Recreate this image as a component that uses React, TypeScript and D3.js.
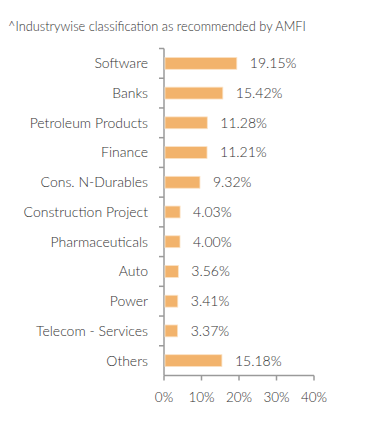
import React from "react";
import * as d3 from "d3";

const categories = [
  "Software",
  "Banks",
  "Petroleum Products",
  "Finance",
  "Cons. N-Durables",
  "Construction Project",
  "Pharmaceuticals",
  "Auto",
  "Power",
  "Telecom - Services",
  "Others",
];
const values = [19.15, 15.42, 11.28, 11.21, 9.32, 4.03, 4.0, 3.56, 3.41, 3.37, 15.18];
const xTicks = [0, 10, 20, 30, 40];

const title = "^Industrywise classification as recommended by AMFI";

const width = 391;
const height = 429;
const left = 164;
const top = 48.5;
const bottom = 375.5;

const App = () => {
  const x = d3.scaleLinear().domain([0, 40]).range([left, left + 150]);
  const y = d3.scaleBand().domain(categories).range([top, bottom]).paddingInner(0.6).paddingOuter(0.3);
  const yBand = d3.scaleBand().domain(categories).range([top, bottom]);
  const axisColor = "#9a9a9a";
  const font = "Lato, 'Open Sans', sans-serif";

  return (
    <svg width={width} height={height} style={{ position: "absolute", left: 0, top: 0, background: "#fff" }}>
      <text x={8} y={31} fontFamily={font} fontSize={12.8} fontWeight={300} fill="#333">
        {title}
      </text>

      {/* y axis */}
      <line x1={left} x2={left} y1={top} y2={bottom} stroke={axisColor} strokeWidth={1.5} />
      {categories.map((c) => (
        <line key={"t" + c} x1={left - 5} x2={left} y1={yBand(c)!} y2={yBand(c)!} stroke={axisColor} strokeWidth={1.5} />
      ))}

      {/* bars */}
      {categories.map((c, i) => (
        <g key={c}>
          <rect
            x={x(0) + 1}
            y={y(c)!}
            width={x(values[i]) - x(0)}
            height={y.bandwidth()}
            fill="#f2b36c"
            stroke="#fbe3c6"
            strokeWidth={0.8}
          />
          <text
            x={left - 16}
            y={yBand(c)! + yBand.bandwidth() / 2}
            dy="0.35em"
            textAnchor="end"
            fontFamily={font}
            fontSize={14}
            fontWeight={300}
            fill="#333"
          >
            {c}
          </text>
          <text
            x={x(values[i]) + 14}
            y={yBand(c)! + yBand.bandwidth() / 2}
            dy="0.35em"
            fontFamily={font}
            fontSize={14}
            fontWeight={300}
            fill="#333"
          >
            {values[i].toFixed(2)}%
          </text>
        </g>
      ))}

      {/* x axis */}
      <line x1={left} x2={x(40)} y1={bottom} y2={bottom} stroke={axisColor} strokeWidth={1.5} />
      {xTicks.map((t) => (
        <g key={t}>
          <line x1={x(t)} x2={x(t)} y1={bottom} y2={bottom + 5} stroke={axisColor} strokeWidth={1.5} />
          <text
            x={x(t)}
            y={bottom + 26}
            textAnchor="middle"
            fontFamily={font}
            fontSize={13.5}
            fontWeight={300}
            fill="#333"
          >
            {t}%
          </text>
        </g>
      ))}
    </svg>
  );
};

export default App;
